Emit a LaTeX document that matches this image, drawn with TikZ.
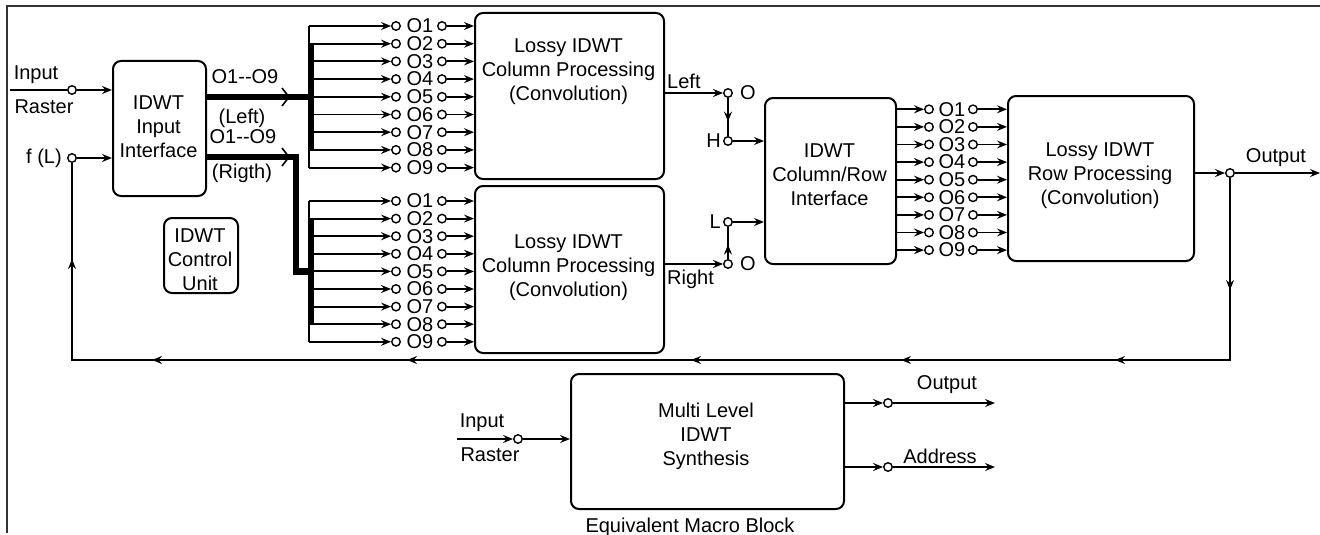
\documentclass[tikz,border=0pt]{standalone}
\usepackage{fontspec}
\setmainfont{Liberation Sans}
\usetikzlibrary{arrows.meta,decorations.markings,calc}
\tikzset{
  tip/.tip={Stealth[length=10pt,width=8pt,inset=3.5pt]},
  blk/.style={draw, line width=2pt, rounded corners=8pt, fill=white, anchor=north west, inner sep=0pt},
  arr/.style={-tip, line width=1.9pt},
  ln/.style={line width=1.9pt},
  sc/.style={circle, draw, line width=1.4pt, fill=white, minimum size=8.5pt, inner sep=0pt},
  txt/.style={font=\fontsize{20}{24}\selectfont, align=center, inner sep=0pt},
  bus/.style={line width=6.5pt, line join=miter},
}
\begin{document}
\begin{tikzpicture}[x=1pt,y=-1pt]
\useasboundingbox (0,0) rectangle (1320,535);
% frame
\draw[line width=1.5pt, black!80] (7,533) -- (7,6) -- (1320,6);

% boxes
\node[blk, minimum width=93pt, minimum height=135pt] (iif) at (112,60) {};
\node[txt] (iift) at (158.5,127) {IDWT\\Input\\Interface};
\node[blk, minimum width=74pt, minimum height=75pt] (cu) at (163,217) {};
\node[txt] (cut) at (200,260) {IDWT\\Control\\Unit};
\node[blk, minimum width=189pt, minimum height=166pt] (tlb) at (474,12) {};
\node[txt] (tlbt) at (568.5,72) {Lossy IDWT\\Column Processing\\(Convolution)};
\node[blk, minimum width=189pt, minimum height=167pt] (llb) at (474,185) {};
\node[txt] (llbt) at (568.5,268) {Lossy IDWT\\Column Processing\\(Convolution)};
\node[blk, minimum width=131pt, minimum height=166pt] (crb) at (764,97) {};
\node[txt] (crbt) at (829.5,175) {IDWT\\Column/Row\\Interface};
\node[blk, minimum width=186pt, minimum height=165pt] (rpb) at (1007,95) {};
\node[txt] (rpbt) at (1100,176) {Lossy IDWT\\Row Processing\\(Convolution)};
\node[blk, minimum width=273pt, minimum height=135pt] (mb) at (570,373) {};
\node[txt] (mbt) at (706,436) {Multi Level\\IDWT\\Synthesis};
\node[txt] (eqm) at (690,527) {Equivalent Macro Block};

% input raster
\coordinate (irs) at (10,90);
\node[sc] (irc) at (72,90) {};
\draw[ln] (irs) -- (irc);
\draw[arr] (irc) -- (irc -| iif.west);
\node[txt] (irl1) at (36,75) {Input};
\node[txt] (irl2) at (44,107) {Raster};
% f(L)
\node[sc] (fl) at (72,158) {};
\node[txt] (flt) at (44,158) {f (L)};
\draw[arr] (fl) -- (fl -| iif.west);

% rows top
\foreach \i in {1,...,9} {
  \pgfmathsetmacro\ty{26+17.7*(\i-1)}
  \coordinate (tb\i) at (309,\ty);
  \node[sc] (ti\i) at (396,\ty) {};
  \node[txt] (tt\i) at (420,\ty) {O\i};
  \node[sc] (to\i) at (442,\ty) {};
  \draw[arr] (tb\i) -- (ti\i);
  \draw[arr] (to\i) -- (to\i -| tlb.west);
}
% rows lower
\foreach \i in {1,...,9} {
  \pgfmathsetmacro\ly{201+17.6*(\i-1)}
  \coordinate (lb\i) at (309,\ly);
  \node[sc] (li\i) at (396,\ly) {};
  \node[txt] (lt\i) at (420,\ly) {O\i};
  \node[sc] (lo\i) at (442,\ly) {};
  \draw[arr] (lb\i) -- (li\i);
  \draw[arr] (lo\i) -- (lo\i -| llb.west);
}
% rows right
\foreach \i in {1,...,9} {
  \pgfmathsetmacro\ry{109.3+17.6*(\i-1)}
  \node[sc] (ri\i) at (929,\ry) {};
  \node[txt] (rt\i) at (952,\ry) {O\i};
  \node[sc] (ro\i) at (973,\ry) {};
  \draw[arr] (ri\i -| crb.east) -- (ri\i);
  \draw[arr] (ro\i) -- (ro\i -| rpb.west);
}

% brackets
\draw[ln] (tb1) -- (tb9);
\draw[line width=5pt] ($(tb2)+(2,0)$) -- ($(tb8)+(2,0)$);
\draw[ln] (lb1) -- (lb9);
\draw[line width=5pt] ($(lb2)+(2,0)$) -- ($(lb8)+(2,0)$);

% buses
\draw[bus] (iif.east |- tb5) -- ($(tb5)+(2,0)$);
\coordinate (rbend) at (296,157);
\draw[bus] (iif.east |- rbend) -- (rbend) -- (rbend |- lb5) -- ($(lb5)+(2,0)$);
\coordinate (chvA) at (289,97);
\coordinate (chvB) at (289,157);
\draw[line width=1.6pt] ($(chvA)+(-7,-9)$) -- (chvA) -- ($(chvA)+(-7,9)$);
\draw[line width=1.6pt] ($(chvB)+(-7,-9)$) -- (chvB) -- ($(chvB)+(-7,9)$);
\node[txt] (bl1) at (245,77) {O1-{}-O9};
\node[txt] (bl2) at (242,118) {(Left)};
\node[txt] (bl3) at (243,137) {O1-{}-O9};
\node[txt] (bl4) at (242,173) {(Rigth)};

% switches
\node[sc] (swl) at (728,93) {};
\node[txt] (swlo) at (748,93) {O};
\draw[arr] (tlb.east |- swl) -- (swl);
\node[txt, anchor=south west] (lft) at (667,89) {Left};
\node[sc] (swh) at (728,141) {};
\node[txt, anchor=east] (hl) at (721,141) {H};
\draw[ln, postaction={decorate}, decoration={markings, mark=at position 0.62 with {\arrow{tip}}}] (swl) -- (swh);
\draw[arr] (swh) -- (swh -| crb.west);

\node[sc] (swr) at (728,264) {};
\node[txt] (swro) at (748,264) {O};
\draw[arr] (llb.east |- swr) -- (swr);
\node[txt, anchor=north west] (rgt) at (667,270) {Right};
\node[sc] (swlo2) at (728,222) {};
\node[txt, anchor=east] (ll) at (721,222) {L};
\draw[ln, postaction={decorate}, decoration={markings, mark=at position 0.45 with {\arrow{tip}}}] (swr) -- (swlo2);
\draw[arr] (swlo2) -- (swlo2 -| crb.west);

% output and feedback
\node[sc] (jo) at (1230,173) {};
\draw[arr] (rpb.east |- jo) -- (jo);
\coordinate (oend) at (1320,173);
\draw[arr] (jo) -- (oend);
\node[txt] (outl) at (1276,158) {Output};
\coordinate (fbr) at (1230,360);
\coordinate (fbl) at (72,360);
\draw[ln, postaction={decorate}, decoration={markings,
   mark=at position 112pt with {\arrow{tip}},
   mark=at position 297pt with {\arrow{tip}},
   mark=at position 511pt with {\arrow{tip}},
   mark=at position 721pt with {\arrow{tip}},
   mark=at position 1005pt with {\arrow{tip}},
   mark=at position 1260pt with {\arrow{tip}},
   mark=at position 1441pt with {\arrow{tip}}}]
   (jo) -- (fbr) -- (fbl) -- (fl);

% macro block io
\coordinate (mis) at (457,439);
\node[sc] (mic) at (518,439) {};
\draw[arr] (mis) -- (mic);
\draw[arr] (mic) -- (mic -| mb.west);
\node[txt] (mil1) at (482,423) {Input};
\node[txt] (mil2) at (490,455) {Raster};
\node[sc] (moc) at (888,403) {};
\draw[arr] (mb.east |- moc) -- (moc);
\coordinate (moe) at (995,403);
\draw[arr] (moc) -- (moe);
\node[txt] (mol) at (947,385) {Output};
\node[sc] (mac) at (888,467) {};
\draw[arr] (mb.east |- mac) -- (mac);
\coordinate (mae) at (995,467);
\draw[arr] (mac) -- (mae);
\node[txt] (mal) at (940,456) {Address};
\end{tikzpicture}
\end{document}
